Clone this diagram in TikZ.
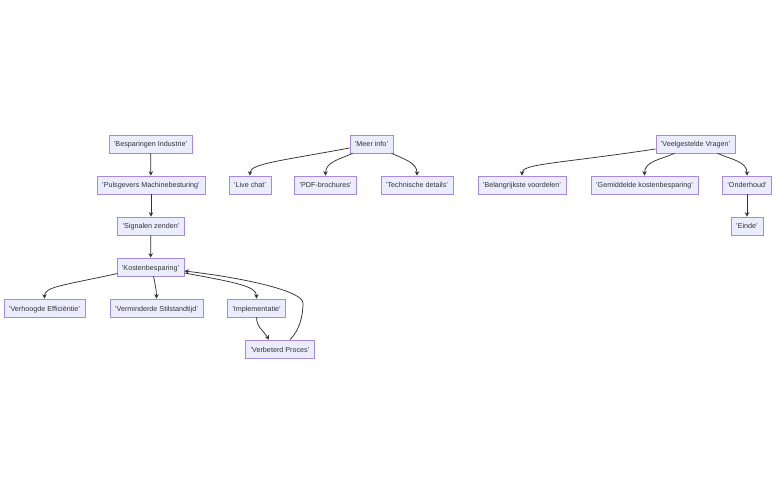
\documentclass[tikz,border=0pt]{standalone}
\usepackage{fontspec}
\setmainfont{Liberation Sans}
\usetikzlibrary{arrows.meta}
\definecolor{boxfill}{HTML}{ECECFF}
\definecolor{boxline}{HTML}{A48AE6}
\definecolor{edgecol}{HTML}{333333}
\tikzset{
  box/.style={draw=boxline, fill=boxfill, line width=0.6pt, rectangle, minimum height=18pt, inner xsep=5pt, inner ysep=0pt, text height=6.5pt, text depth=0.5pt, text=edgecol, font=\fontsize{7.2}{8}\selectfont},
  edge/.style={draw=edgecol, line width=0.75pt, -{Stealth[length=4.5pt,width=4.5pt]}}
}
\begin{document}
\begin{tikzpicture}[x=1pt,y=-1pt]
\useasboundingbox (0,0) rectangle (784,494);
\fill[white] (0,0) rectangle (784,494);
% nodes
\node[box] (besp) at (150.5,144) {'Besparingen Industrie'};
\node[box] (puls) at (151,185) {'Pulsgevers Machinebesturing'};
\node[box] (sign) at (151,226) {'Signalen zenden'};
\node[box] (kost) at (150.5,267) {'Kostenbesparing'};
\node[box] (verh) at (44.5,308) {'Verhoogde Efficiëntie'};
\node[box] (verm) at (156.5,308) {'Verminderde Stilstandtijd'};
\node[box] (impl) at (256.5,308) {'Implementatie'};
\node[box] (verb) at (280,349) {'Verbeterd Proces'};
\node[box] (meer) at (371.5,144) {'Meer info'};
\node[box] (live) at (250,185) {'Live chat'};
\node[box] (pdf) at (325.5,185) {'PDF-brochures'};
\node[box] (tech) at (417,185) {'Technische details'};
\node[box] (veel) at (695.5,144) {'Veelgestelde Vragen'};
\node[box] (bela) at (522,185) {'Belangrijkste voordelen'};
\node[box] (gemi) at (644.5,185) {'Gemiddelde kostenbesparing'};
\node[box] (onde) at (747,185) {'Onderhoud'};
\node[box] (einde) at (747,226) {'Einde'};
\coordinate (bend) at (303,303);
% edges
\draw[edge] (besp) -- (puls);
\draw[edge] (puls) -- (sign);
\draw[edge] (sign) -- (kost);
\draw[edge] ([xshift=1pt,yshift=-6.5pt]kost.west) .. controls +(-55,12) and +(0,-12) .. (verh.north);
\draw[edge] ([xshift=37pt]kost.south west) to[out=-80,in=90] (verm.north);
\draw[edge] ([yshift=-6pt]kost.east) .. controls +(55,10) and +(0,-12) .. (impl.north);
\draw[edge] (impl.south) to[out=-90,in=120] ([xshift=-11pt]verb.north);
\draw[edge] ([xshift=10pt]verb.north) .. controls +(10,-10) and +(0,12) .. (bend) .. controls +(0,-12) and +(60,7) .. ([yshift=-4pt]kost.east);
\draw[edge] ([yshift=-4pt]meer.west) .. controls +(-70,13) and +(0,-12) .. (live.north);
\draw[edge] ([xshift=3pt]meer.south west) to[out=205,in=90] (pdf.north);
\draw[edge] ([xshift=-2pt]meer.south east) to[out=-25,in=90] (tech.north);
\draw[edge] ([yshift=-5pt]veel.west) .. controls +(-100,15) and +(0,-12) .. (bela.north);
\draw[edge] ([xshift=19pt]veel.south west) to[out=205,in=90] (gemi.north);
\draw[edge] ([xshift=-18pt]veel.south east) to[out=-25,in=90] (onde.north);
\draw[edge] (onde) -- (einde);
\end{tikzpicture}
\end{document}
